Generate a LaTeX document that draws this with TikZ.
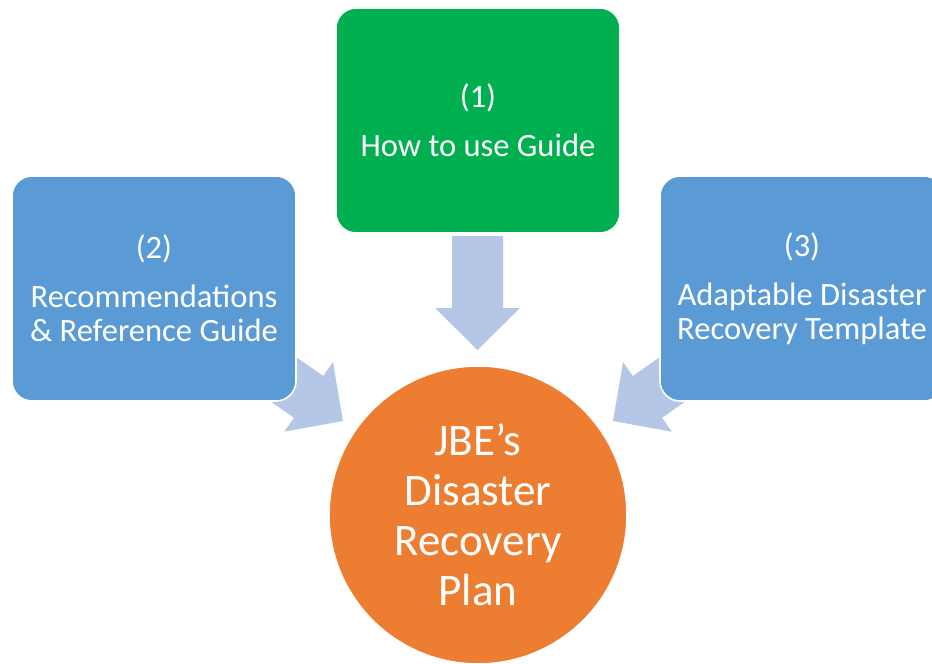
\documentclass[tikz,border=0pt]{standalone}
\usepackage{fontspec}
\setmainfont{Carlito}
\definecolor{boxblue}{HTML}{5B9BD5}
\definecolor{boxgreen}{HTML}{00B050}
\definecolor{planorange}{HTML}{ED7D31}
\definecolor{arrowblue}{HTML}{B4C7E7}
\tikzset{
  card/.style={rectangle, rounded corners=15pt, draw=white, line width=1.2pt,
    minimum width=213pt, minimum height=168.75pt, inner sep=0pt,
    text=white, align=center, font=\fontsize{24.4}{25.5}\selectfont},
  plan/.style={circle, fill=planorange, draw=white, line width=1.2pt,
    minimum size=223.5pt, inner sep=0pt, text=white, align=center,
    font=\fontsize{33.8}{37.5}\selectfont},
  blockarr/.pic={\fill[arrowblue] (0,0) -- (42.5,-42) -- (25.5,-42) -- (25.5,-114)
      -- (-25.5,-114) -- (-25.5,-42) -- (-42.5,-42) -- cycle;}
}
\begin{document}
\begin{tikzpicture}[x=0.75pt,y=-0.75pt]
\clip (0,0) rectangle (932,664);
\fill[white] (0,0) rectangle (932,664);
% block arrows
\pic at (477.5,350) {blockarr};
\pic[rotate=55] at (343,421) {blockarr};
\pic[rotate=-55] at (613,421) {blockarr};
% boxes
\node[card, fill=boxgreen] (guide) at (478,120.5) {(1)\\[11pt]How to use Guide};
\node[card, fill=boxblue] (recs) at (154,288.5) {(2)\\[11pt]Recommendations\\\& Reference Guide};
\node[card, fill=boxblue] (tmpl) at (802,288.5) {(3)\\[11pt]Adaptable Disaster\\Recovery Template};
\node[plan] (drp) at (478,515) {JBE’s\\Disaster\\Recovery\\Plan};
\end{tikzpicture}
\end{document}
